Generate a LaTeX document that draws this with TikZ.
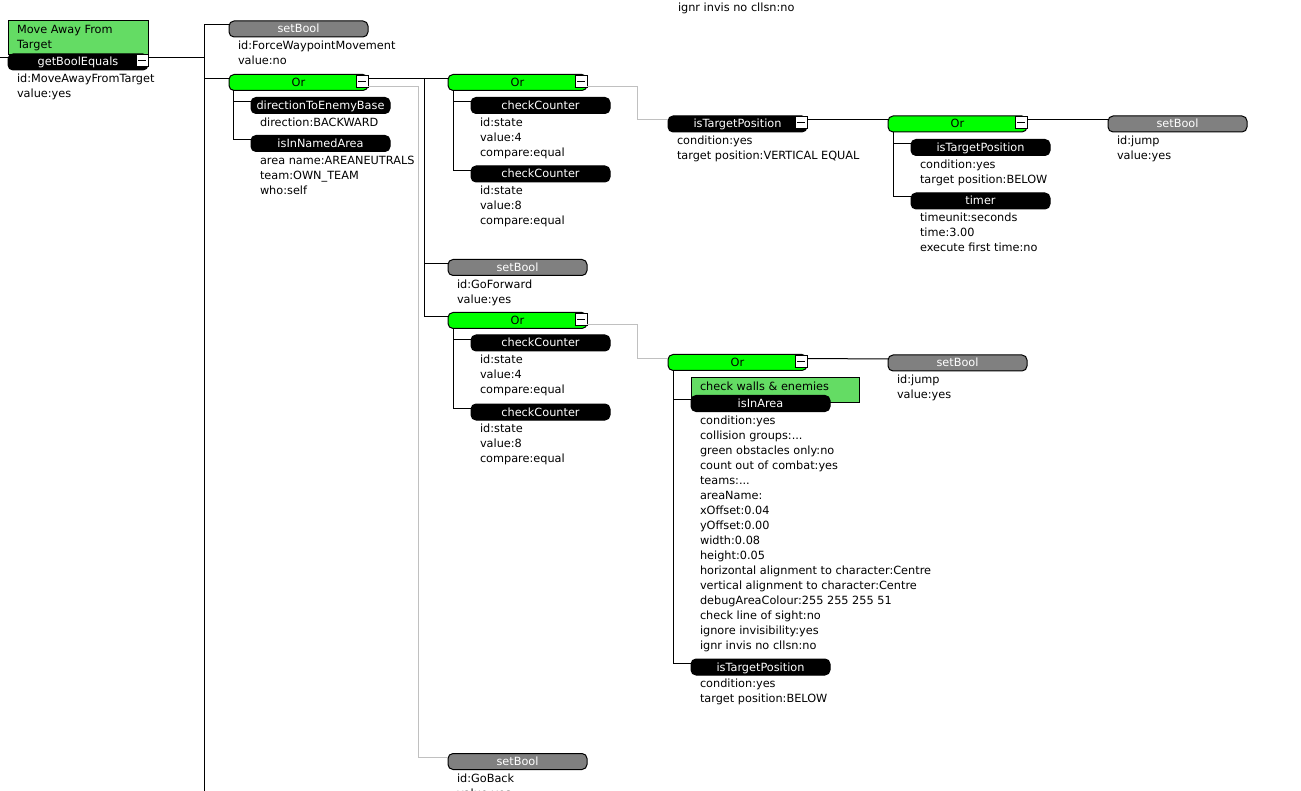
\documentclass[tikz,border=0pt]{standalone}
\usepackage{fontspec}
\setmainfont{DejaVu Sans}
\usetikzlibrary{calc}
\definecolor{orgreen}{RGB}{0,255,0}
\definecolor{cmtgreen}{RGB}{100,220,100}
\definecolor{sbgray}{RGB}{128,128,128}
\definecolor{wire}{RGB}{192,192,192}
\newcommand\tdots{...}
\newcommand\props[2]{\foreach \myline [count=\myidx] in {#2} {\node[prop] (#1-p\myidx) at ([xshift=9pt,yshift={-(12.7+15*(\myidx-1))*1pt}]#1.south west) {\myline};}}
\begin{document}
\begin{tikzpicture}[x=1pt,y=-1pt,line width=1pt,
  every node/.style={inner sep=0pt,outer sep=0pt,font=\fontsize{11.3}{15}\selectfont},
  blk/.style={rectangle,rounded corners=5pt,draw=black,minimum width=139pt,minimum height=16pt,text height=8pt,text depth=0pt,anchor=north west},
  cond/.style={blk,fill=black,text=white},
  act/.style={blk,fill=sbgray,text=white},
  orbox/.style={blk,fill=orgreen,text=black},
  cmt/.style={rectangle,draw=black,fill=cmtgreen,anchor=north west},
  minus/.style={rectangle,draw=black,fill=white,minimum size=12pt,anchor=north east},
  prop/.style={anchor=base west,text=black},
  wireblk/.style={draw=black,line width=1pt},
  wiregray/.style={draw=wire,line width=1pt}]
\useasboundingbox (0,0) rectangle (1301,791);
\clip (0,0) rectangle (1301,791);
\fill[white] (0,0) rectangle (1301,791);

% nodes
\node[cmt,minimum width=140pt,minimum height=34pt] (gbec) at (8,21) {};
\node[prop] (gbec-p1) at ([xshift=9pt,yshift=-13pt]gbec.north west) {Move Away From};
\node[prop] (gbec-p2) at ([xshift=9pt,yshift=-28pt]gbec.north west) {Target};
\node[cond,minimum width=140pt] (gbe) at (8,54) {getBoolEquals};
\node[minus] (gbem) at ([yshift=-1pt]gbe.north east) {\rule{8pt}{1pt}};

\node[act] (sb1) at (229,21) {setBool};
\node[orbox] (or1) at (229,74.5) {Or};
\node[minus] (or1m) at ([yshift=-1pt]or1.north east) {\rule{8pt}{1pt}};
\node[cond] (dteb) at (251,97.5) {directionToEnemyBase};
\node[cond] (inna) at (251,135.5) {isInNamedArea};

\node[orbox] (or2) at (448,74.5) {Or};
\node[minus] (or2m) at ([yshift=-1pt]or2.north east) {\rule{8pt}{1pt}};
\node[cond] (cc1) at (471,97.5) {checkCounter};
\node[cond] (cc2) at (471,166) {checkCounter};

\node[cond] (tp1) at (668,116) {isTargetPosition};
\node[minus] (tp1m) at ([yshift=-1pt]tp1.north east) {\rule{8pt}{1pt}};
\node[orbox] (or3) at (888,116) {Or};
\node[minus] (or3m) at ([yshift=-1pt]or3.north east) {\rule{8pt}{1pt}};
\node[cond] (tp2) at (911,139.5) {isTargetPosition};
\node[cond] (tmr) at (911,193) {timer};
\node[act] (sbj1) at (1108,116) {setBool};

\node[act] (sbgf) at (448,259.5) {setBool};
\node[orbox] (or4) at (448,312.5) {Or};
\node[minus] (or4m) at ([yshift=-1pt]or4.north east) {\rule{8pt}{1pt}};
\node[cond] (cc3) at (471,335) {checkCounter};
\node[cond] (cc4) at (471,404) {checkCounter};

\node[orbox] (or5) at (668,354.5) {Or};
\node[minus] (or5m) at ([yshift=-1pt]or5.north east) {\rule{8pt}{1pt}};
\node[cmt,minimum width=168pt,minimum height=25pt] (iac) at (691,377.5) {};
\node[prop] (iac-p1) at ([xshift=9pt,yshift=-13pt]iac.north west) {check walls \& enemies};
\node[cond] (ia) at (691,395.5) {isInArea};
\node[cond] (tp3) at (691,659) {isTargetPosition};
\node[act] (sbj2) at (888,355) {setBool};

\node[act] (sbgb) at (448,753.5) {setBool};

\node[prop] (top0) at (678,-3) {ignore invisibility:yes};
\node[prop] (top1) at (678,12) {ignr invis no cllsn:no};

% properties
\props{gbe}{id:MoveAwayFromTarget,value:yes}
\props{sb1}{id:ForceWaypointMovement,value:no}
\props{dteb}{direction:BACKWARD}
\props{inna}{area name:AREANEUTRALS,team:OWN\_TEAM,who:self}
\props{cc1}{id:state,value:4,compare:equal}
\props{cc2}{id:state,value:8,compare:equal}
\props{tp1}{condition:yes,target position:VERTICAL EQUAL}
\props{tp2}{condition:yes,target position:BELOW}
\props{tmr}{timeunit:seconds,time:3.00,execute first time:no}
\props{sbj1}{id:jump,value:yes}
\props{sbgf}{id:GoForward,value:yes}
\props{cc3}{id:state,value:4,compare:equal}
\props{cc4}{id:state,value:8,compare:equal}
\props{ia}{condition:yes,collision groups:\tdots,green obstacles only:no,count out of combat:yes,teams:\tdots,areaName:,xOffset:0.04,yOffset:0.00,width:0.08,height:0.05,horizontal alignment to character:Centre,vertical alignment to character:Centre,debugAreaColour:255 255 255 51,check line of sight:no,ignore invisibility:yes,ignr invis no cllsn:no}
\props{tp3}{condition:yes,target position:BELOW}
\props{sbj2}{id:jump,value:yes}
\props{sbgb}{id:GoBack,value:yes}

% connectors
\coordinate (lin) at (0,58);
\coordinate (bus0) at (204,791);
\draw[wireblk] (lin) -- ([yshift=-4pt]gbe.north west);
\draw[wireblk] ([yshift=-4pt]gbe.north east) -| (bus0);
\draw[wireblk] (bus0) |- ([yshift=-4pt]sb1.north west);
\draw[wireblk] (bus0) |- ([yshift=-4pt]or1.north west);

\draw[wireblk] ([xshift=4pt]or1.south west) |- ([yshift=-4.5pt]dteb.north west);
\draw[wireblk] ([xshift=4pt]or1.south west) |- ([yshift=-4pt]inna.north west);

\draw[wireblk] ([yshift=-4pt]or1.north east) -- ([yshift=-4pt]or2.north west);
\draw[wireblk] ([yshift=-4pt,xshift=56.5pt]or1.north east) |- ([yshift=-4pt]sbgf.north west);
\draw[wireblk] ([yshift=-4pt,xshift=56.5pt]or1.north east) |- ([yshift=-4pt]or4.north west);
\draw[wiregray] ([yshift=-12.5pt]or1.north east) -- ++(50.5,0) |- ([yshift=-3.5pt]sbgb.north west);

\draw[wireblk] ([xshift=5pt]or2.south west) |- ([yshift=-4.5pt]cc1.north west);
\draw[wireblk] ([xshift=5pt]or2.south west) |- ([yshift=-4.5pt]cc2.north west);
\draw[wiregray] ([yshift=-12.5pt]or2.north east) -- ++(50.5,0) |- ([yshift=-4pt]tp1.north west);

\draw[wireblk] ([yshift=-4pt]tp1.north east) -- ([yshift=-4pt]or3.north west);
\draw[wireblk] ([xshift=5pt]or3.south west) |- ([yshift=-4pt]tp2.north west);
\draw[wireblk] ([xshift=5pt]or3.south west) |- ([yshift=-4pt]tmr.north west);
\draw[wireblk] ([yshift=-4pt]or3.north east) -- ([yshift=-4pt]sbj1.north west);

\draw[wireblk] ([xshift=5pt]or4.south west) |- ([yshift=-4.5pt]cc3.north west);
\draw[wireblk] ([xshift=5pt]or4.south west) |- ([yshift=-4.5pt]cc4.north west);
\draw[wiregray] ([yshift=-12pt]or4.north east) -- ++(50.5,0) |- ([yshift=-4pt]or5.north west);

\draw[wireblk] ([xshift=5pt]or5.south west) |- ([yshift=-4pt]ia.north west);
\draw[wireblk] ([xshift=5pt]or5.south west) |- ([yshift=-4pt]tp3.north west);
\draw[wireblk] ([yshift=-4pt]or5.north east) -- ([yshift=-4pt]sbj2.north west);
\end{tikzpicture}
\end{document}
